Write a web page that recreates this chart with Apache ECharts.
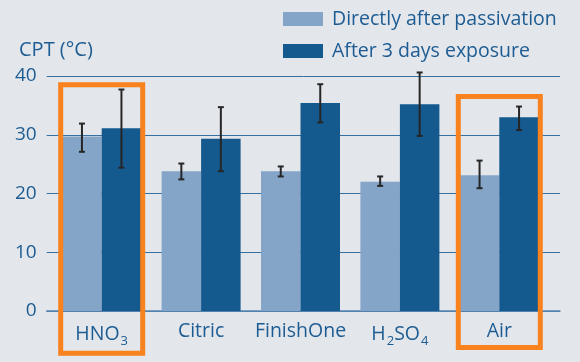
<!DOCTYPE html>
<html>
<head>
<meta charset="utf-8">
<script src="https://cdn.jsdelivr.net/npm/echarts@6/dist/echarts.min.js"></script>
<style>
  html, body { margin: 0; padding: 0; background: #e3e6eb; }
  #chart { width: 580px; height: 362px; }
</style>
</head>
<body>
<div id="chart"></div>
<script>
// ---- Data ----
var categories = ['HNO3', 'Citric', 'FinishOne', 'H2SO4', 'Air'];
var seriesNames = ['Directly after passivation', 'After 3 days exposure'];
var directValues = [29.7, 23.8, 23.8, 22.0, 23.1];
var directErrLow = [27.1, 22.4, 22.9, 21.3, 20.9];
var directErrHigh = [31.9, 25.1, 24.6, 22.9, 25.6];
var exposureValues = [31.1, 29.3, 35.4, 35.2, 33.0];
var exposureErrLow = [24.4, 23.8, 32.1, 29.8, 30.8];
var exposureErrHigh = [37.7, 34.7, 38.6, 40.6, 34.8];
var yTicks = [0, 10, 20, 30, 40];
var highlightIndex = [0, 4];
var highlightTop = [38.5, 36.5];
var highlightBottom = [-7.2, -6.2];

// ---- Styling ----
var FONT = 'Open Sans';
var TEXT_COLOR = '#1d5c92';
var LIGHT = '#84a4c8';
var DARK = '#155a8e';
var BAR_W = 39.5;

var labelRich = {
  n: { fontSize: 19.5, color: TEXT_COLOR, fontFamily: FONT },
  s: { fontSize: 13, color: TEXT_COLOR, fontFamily: FONT, padding: [14, 0, 0, 1] }
};
function catLabel(v) {
  if (v === 'HNO3') return '{n|HNO}{s|3}';
  if (v === 'H2SO4') return '{n|H}{s|2}{n|SO}{s|4}';
  return '{n|' + v + '}';
}

function errorSeries(name, lows, highs, sign) {
  return {
    type: 'custom',
    name: name + ' error',
    xAxisIndex: 1, yAxisIndex: 1,
    z: 5,
    silent: true,
    data: categories.map(function (c, i) { return [i, lows[i], highs[i]]; }),
    renderItem: function (params, api) {
      var lo = api.coord([api.value(0), api.value(1)]);
      var hi = api.coord([api.value(0), api.value(2)]);
      var x = lo[0] + sign * BAR_W / 2;
      var cap = 3;
      var st = { stroke: '#262626', lineWidth: 2 };
      return {
        type: 'group',
        children: [
          { type: 'line', shape: { x1: x, y1: lo[1], x2: x, y2: hi[1] }, style: st },
          { type: 'line', shape: { x1: x - cap, y1: lo[1], x2: x + cap, y2: lo[1] }, style: st },
          { type: 'line', shape: { x1: x - cap, y1: hi[1], x2: x + cap, y2: hi[1] }, style: st }
        ]
      };
    }
  };
}

var chart = echarts.init(document.getElementById('chart'), null, { renderer: 'canvas' });
var option = {
  backgroundColor: '#e3e6eb',
  animation: false,
  title: {
    text: 'CPT (°C)',
    left: 14, top: 35,
    textStyle: { fontFamily: FONT, fontSize: 20, fontWeight: 'normal', color: TEXT_COLOR }
  },
  legend: {
    orient: 'vertical',
    left: 278, top: 4,
    itemWidth: 40, itemHeight: 14,
    itemGap: 12,
    icon: 'rect',
    selectedMode: false,
    data: seriesNames,
    textStyle: { fontFamily: FONT, fontSize: 19.5, color: TEXT_COLOR, lineHeight: 20, padding: [0, 0, 0, 4] }
  },
  grid: [
    { left: 46.7, right: 20, top: 76, bottom: 51 },
    { left: 52, right: 31, top: 76, bottom: 51 }
  ],
  xAxis: [
    {
      type: 'value', gridIndex: 0, min: 0, max: 1,
      axisLine: { show: true, lineStyle: { color: '#5b87b0', width: 1.5 } },
      axisTick: { show: false }, axisLabel: { show: false }, splitLine: { show: false }
    },
    {
      type: 'category', gridIndex: 1, data: categories,
      axisLine: { show: false }, axisTick: { show: false }, splitLine: { show: false },
      axisLabel: {
        interval: 0,
        hideOverlap: false,
        margin: 10,
        formatter: catLabel,
        rich: labelRich
      }
    }
  ],
  yAxis: [
    {
      type: 'value', gridIndex: 0, min: yTicks[0], max: yTicks[yTicks.length - 1], interval: 10,
      axisLine: { show: false }, axisTick: { show: false },
      axisLabel: { margin: 10, fontFamily: FONT, fontSize: 19, color: TEXT_COLOR },
      splitLine: { show: true, lineStyle: { color: '#3570a3', width: 1 } }
    },
    {
      type: 'value', gridIndex: 1, min: yTicks[0], max: yTicks[yTicks.length - 1], interval: 10,
      show: false, splitLine: { show: false }
    }
  ],
  series: [
    {
      type: 'bar', name: seriesNames[0], xAxisIndex: 1, yAxisIndex: 1,
      data: directValues, barWidth: BAR_W, barGap: '0%',
      itemStyle: { color: LIGHT }
    },
    {
      type: 'bar', name: seriesNames[1], xAxisIndex: 1, yAxisIndex: 1,
      data: exposureValues, barWidth: BAR_W, barGap: '0%',
      itemStyle: { color: DARK }
    },
    errorSeries('direct', directErrLow, directErrHigh, -1),
    errorSeries('exposure', exposureErrLow, exposureErrHigh, 1),
    {
      type: 'custom', name: 'highlight', xAxisIndex: 1, yAxisIndex: 1,
      z: 10, silent: true, clip: false,
      data: highlightIndex.map(function (c, i) { return [c, highlightTop[i], highlightBottom[i]]; }),
      renderItem: function (params, api) {
        var top = api.coord([api.value(0), api.value(1)]);
        var bot = api.coord([api.value(0), api.value(2)]);
        var w = 2 * BAR_W + 3;
        return {
          type: 'rect',
          shape: { x: top[0] - w / 2, y: top[1], width: w, height: bot[1] - top[1] },
          style: { fill: 'none', stroke: '#f7821e', lineWidth: 5 }
        };
      }
    }
  ]
};
chart.setOption(option);
</script>
</body>
</html>
